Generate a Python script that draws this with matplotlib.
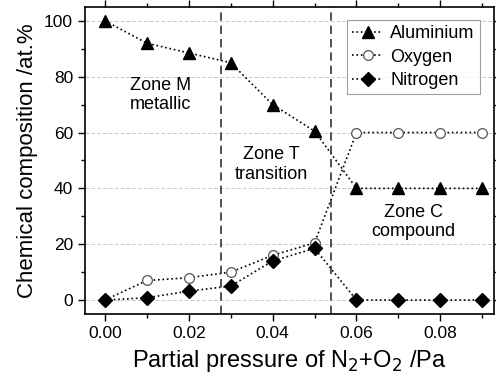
import numpy as np
import matplotlib.pyplot as plt

plt.rcParams['font.family'] = ['Liberation Sans', 'DejaVu Sans']

pressure = [0.00, 0.01, 0.02, 0.03, 0.04, 0.05, 0.06, 0.07, 0.08, 0.09]
aluminium = [100, 92, 88.5, 85, 70, 60.5, 40, 40, 40, 40]
oxygen = [0, 7, 8, 10, 16, 20.5, 60, 60, 60, 60]
nitrogen = [0, 0.8, 3.2, 5, 14, 18.5, 0, 0, 0, 0]
zone_bounds = [0.0277, 0.054]

fig = plt.figure(figsize=(4.96, 3.82), dpi=100)
ax = fig.add_axes([0.171, 0.178, 0.825, 0.804])

ax.plot(pressure, aluminium, ls=':', color='k', lw=1.2, marker='^', ms=8,
        mfc='k', mec='k', label='Aluminium')
ax.plot(pressure, oxygen, ls=':', color='k', lw=1.2, marker='o', ms=7,
        mfc='white', mec='#555555', mew=0.9, label='Oxygen')
ax.plot(pressure, nitrogen, ls=':', color='k', lw=1.2, marker='D', ms=7,
        mfc='k', mec='k', label='Nitrogen')

for xb in zone_bounds:
    ax.axvline(xb, color='#333333', ls=(0, (5, 3)), lw=1.2)

ax.text(0.0133, 73.5, 'Zone M\nmetallic', ha='center', va='center', fontsize=13)
ax.text(0.0398, 48.5, 'Zone T\ntransition', ha='center', va='center', fontsize=13)
ax.text(0.0735, 28, 'Zone C\ncompound', ha='center', va='center', fontsize=13)

ax.set_xlim(-0.0048, 0.0928)
ax.set_ylim(-5, 105)
ax.set_xticks(np.arange(0, 0.09, 0.02))
ax.set_xticks(np.arange(0, 0.095, 0.01), minor=True)
ax.set_yticks(np.arange(0, 101, 20))
ax.set_yticks(np.arange(0, 101, 10), minor=True)
ax.set_xticklabels(['0.00', '0.02', '0.04', '0.06', '0.08'])
ax.yaxis.grid(True, color='#cccccc', ls=(0, (4, 2)), lw=0.7)
ax.set_axisbelow(True)

ax.tick_params(which='both', direction='out', labelsize=12.5)
ax.tick_params(which='major', length=5, width=1)
ax.tick_params(which='minor', length=3, width=1)
ax.tick_params(which='both', top=True, right=True)
for s in ax.spines.values():
    s.set_linewidth(1.2)

ax.set_xlabel('Partial pressure of N$_2$+O$_2$ /Pa', fontsize=17, labelpad=5)
ax.set_ylabel('Chemical composition /at.%', fontsize=16, labelpad=4)

leg = ax.legend(loc='upper right', bbox_to_anchor=(0.966, 0.958), fontsize=13,
                frameon=True, fancybox=False, handlelength=1.7,
                borderpad=0.3, labelspacing=0.35, handletextpad=0.4,
                borderaxespad=0.0)
leg.get_frame().set_edgecolor('#888888')
leg.get_frame().set_linewidth(0.8)

fig.savefig('out.png', dpi=100)
